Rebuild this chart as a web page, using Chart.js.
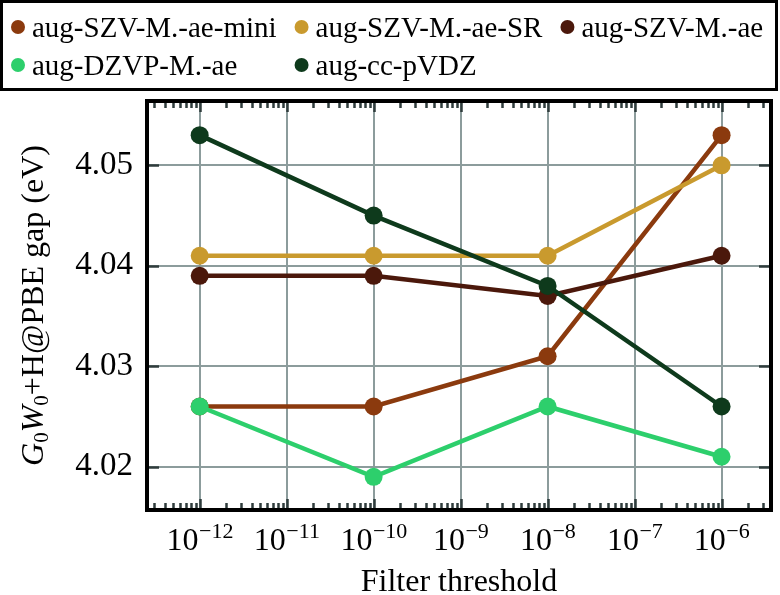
<!DOCTYPE html>
<html><head><meta charset="utf-8">
<script src="https://cdn.jsdelivr.net/npm/chart.js@4/dist/chart.umd.min.js"></script>
<style>html,body{margin:0;padding:0;background:#fff}#wrap{width:780px;height:595px;position:relative}</style>
</head><body><div id="wrap"><canvas id="c" width="780" height="595"></canvas></div>
<script>
// ---- data ----
const thresholds = [1e-12, 1e-10, 1e-8, 1e-6];
const seriesNames = ['aug-SZV-M.-ae-mini', 'aug-SZV-M.-ae-SR', 'aug-SZV-M.-ae', 'aug-DZVP-M.-ae', 'aug-cc-pVDZ'];
const augSZVMaeMini = [4.026, 4.026, 4.031, 4.053];
const augSZVMaeSR   = [4.041, 4.041, 4.041, 4.050];
const augSZVMae     = [4.039, 4.039, 4.037, 4.041];
const augDZVPMae    = [4.026, 4.019, 4.026, 4.021];
const augCcPVDZ     = [4.053, 4.045, 4.038, 4.026];
const xTickExponents = [-12, -11, -10, -9, -8, -7, -6];
const yTickValues = [4.02, 4.03, 4.04, 4.05];
const seriesColors = ['#8b3a0e', '#c99a2e', '#4b180b', '#2dcf6c', '#0e3a1c'];
const xTitle = 'Filter threshold';

const allSeries = [augSZVMaeMini, augSZVMaeSR, augSZVMae, augDZVPMae, augCcPVDZ];
const SERIF = '"Liberation Serif", "Times New Roman", serif';

const datasets = allSeries.map((vals, i) => ({
  label: seriesNames[i],
  data: thresholds.map((t, k) => ({ x: t, y: vals[k] })),
  borderColor: seriesColors[i],
  backgroundColor: seriesColors[i],
  pointBackgroundColor: seriesColors[i],
  pointBorderColor: seriesColors[i],
  borderWidth: 4.5,
  pointRadius: 9,
  pointBorderWidth: 0,
  tension: 0,
  order: allSeries.length - i
}));

const decorPlugin = {
  id: 'decor',
  afterDatasetsDraw(chart) {
    const ctx = chart.ctx, ca = chart.chartArea;
    const xs = chart.scales.x, ys = chart.scales.y;
    ctx.save();
    ctx.strokeStyle = '#2f3c3c';
    ctx.lineWidth = 2.5;
    ctx.lineCap = 'butt';
    const lo = Math.floor(Math.log10(xs.min)), hi = Math.ceil(Math.log10(xs.max));
    for (let e = lo; e <= hi; e++) {
      for (let m = 1; m <= 9; m++) {
        const v = m * Math.pow(10, e);
        if (v < xs.min || v > xs.max) continue;
        const px = Math.round(xs.getPixelForValue(v)) + 0.5;
        const len = m === 1 ? 11 : 7;
        ctx.beginPath();
        ctx.moveTo(px, ca.bottom); ctx.lineTo(px, ca.bottom - len);
        ctx.moveTo(px, ca.top); ctx.lineTo(px, ca.top + len);
        ctx.stroke();
      }
    }
    ys.ticks.forEach(t => {
      const py = Math.round(ys.getPixelForValue(t.value)) + 0.5;
      ctx.beginPath();
      ctx.moveTo(ca.left, py); ctx.lineTo(ca.left + 12, py);
      ctx.moveTo(ca.right, py); ctx.lineTo(ca.right - 12, py);
      ctx.stroke();
    });
    ctx.strokeStyle = '#000';
    ctx.lineWidth = 4;
    ctx.strokeRect(ca.left, ca.top, ca.right - ca.left, ca.bottom - ca.top);
    ctx.restore();
  },
  afterDraw(chart) {
    const ctx = chart.ctx, ca = chart.chartArea;
    const xs = chart.scales.x;
    ctx.save();
    ctx.fillStyle = '#000';
    ctx.textBaseline = 'alphabetic';
    ctx.textAlign = 'left';
    xTickExponents.forEach(e => {
      const px = xs.getPixelForValue(Math.pow(10, e));
      const base = '10', sup = '\u2212' + Math.abs(e);
      ctx.font = '32px ' + SERIF;
      const wb = ctx.measureText(base).width;
      ctx.font = '22px ' + SERIF;
      const ws = ctx.measureText(sup).width;
      const x0 = px - (wb + ws) / 2;
      ctx.font = '32px ' + SERIF;
      ctx.fillText(base, x0, 550);
      ctx.font = '22px ' + SERIF;
      ctx.fillText(sup, x0 + wb + 0.5, 538);
    });
    ctx.font = '32px ' + SERIF;
    ctx.textAlign = 'center';
    ctx.fillText(xTitle, (ca.left + ca.right) / 2, 591);
    const segs = [
      { t: 'G', f: 'italic 32px ' + SERIF, dy: 0 },
      { t: '0', f: '21px ' + SERIF, dy: 5 },
      { t: 'W', f: 'italic 32px ' + SERIF, dy: 0 },
      { t: '0', f: '21px ' + SERIF, dy: 5 },
      { t: '+H@PBE gap (eV)', f: '32px ' + SERIF, dy: 0 }
    ];
    let total = 0;
    segs.forEach(s => { ctx.font = s.f; s.w = ctx.measureText(s.t).width; total += s.w; });
    ctx.translate(43, (ca.top + ca.bottom) / 2);
    ctx.rotate(-Math.PI / 2);
    ctx.textAlign = 'left';
    let cx = -total / 2;
    segs.forEach(s => { ctx.font = s.f; ctx.fillText(s.t, cx, s.dy); cx += s.w; });
    ctx.restore();

    ctx.save();
    ctx.strokeStyle = '#000';
    ctx.lineWidth = 3;
    ctx.strokeRect(1.5, 1.5, 775, 88);
    const ncol = 3;
    const rowY = [27, 65];
    ctx.font = '29px ' + SERIF;
    const widths = seriesNames.map(n => ctx.measureText(n).width);
    const colW = [];
    for (let c = 0; c < ncol; c++) {
      let m = 0;
      for (let i = c; i < seriesNames.length; i += ncol) m = Math.max(m, widths[i]);
      colW.push(m);
    }
    const colX = [18];
    for (let c = 1; c < ncol; c++) colX.push(colX[c - 1] + 14 + colW[c - 1] + 25);
    ctx.textBaseline = 'alphabetic';
    ctx.textAlign = 'left';
    seriesNames.forEach((n, i) => {
      const r = Math.floor(i / ncol), c = i % ncol;
      ctx.fillStyle = seriesColors[i];
      ctx.beginPath();
      ctx.arc(colX[c], rowY[r], 7, 0, Math.PI * 2);
      ctx.fill();
      ctx.fillStyle = '#000';
      ctx.fillText(n, colX[c] + 14, rowY[r] + 10);
    });
    ctx.restore();
  }
};

new Chart(document.getElementById('c'), {
  type: 'line',
  data: { datasets },
  options: {
    responsive: false,
    animation: false,
    devicePixelRatio: 1,
    layout: { padding: { top: 101, right: 4, left: 0, bottom: 0 } },
    plugins: { legend: { display: false }, tooltip: { enabled: false } },
    scales: {
      x: {
        type: 'logarithmic',
        min: 2.48e-13,
        max: 3.7e-6,
        afterBuildTicks: s => { s.ticks = xTickExponents.map(e => ({ value: Math.pow(10, e), major: true })); },
        afterFit: s => { s.height = 85; },
        ticks: { display: false },
        grid: { color: '#8c9c9c', lineWidth: 2, drawTicks: false },
        border: { display: false }
      },
      y: {
        type: 'linear',
        min: 4.0157,
        max: 4.0564,
        afterBuildTicks: s => { s.ticks = yTickValues.map(v => ({ value: v })); },
        afterFit: s => { s.width = 147; },
        ticks: {
          padding: 14,
          color: '#000',
          font: { family: SERIF, size: 33 },
          callback: v => Number(v).toFixed(2)
        },
        grid: { color: '#8c9c9c', lineWidth: 2, drawTicks: false },
        border: { display: false }
      }
    }
  },
  plugins: [decorPlugin]
});
</script>
</body></html>
